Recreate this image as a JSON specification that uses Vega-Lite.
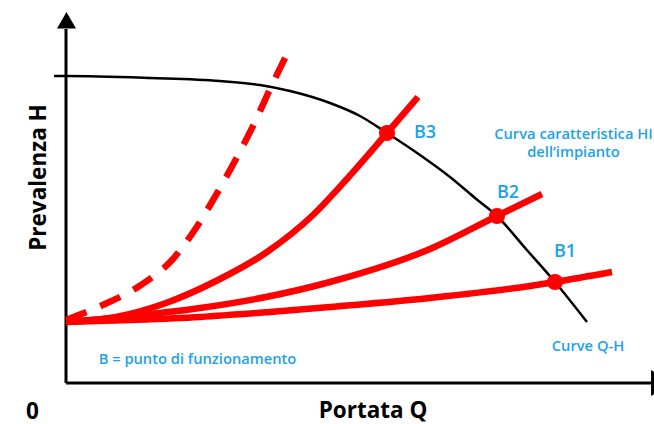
{
  "$schema": "https://vega.github.io/schema/vega-lite/v6.json",
  "width": 654,
  "height": 424,
  "autosize": {"type": "none"},
  "padding": 0,
  "background": "white",
  "config": {"view": {"stroke": null}},
  "datasets": {
    "axes": [
      {"Q": 0, "H": 0, "Q2": 0, "H2": 354},
      {"Q": 0, "H": 0, "Q2": 585, "H2": 0}
    ],
    "arrowUp": [{"Q": 0.5, "H": 362.8}],
    "arrowRight": [{"Q": 596.3, "H": 0}],
    "pump": [
      {"Q": -12, "H": 307}, {"Q": 0, "H": 307}, {"Q": 84, "H": 305}, {"Q": 154, "H": 302},
      {"Q": 194, "H": 298}, {"Q": 224, "H": 292}, {"Q": 264, "H": 280}, {"Q": 294, "H": 267},
      {"Q": 321, "H": 250}, {"Q": 354, "H": 228}, {"Q": 384, "H": 206}, {"Q": 409, "H": 185},
      {"Q": 431, "H": 167}, {"Q": 460, "H": 134}, {"Q": 489, "H": 101}, {"Q": 521, "H": 61}
    ],
    "system": [
      {"curve": "B1", "Q": 0, "H": 61}, {"curve": "B1", "Q": 64, "H": 63}, {"curve": "B1", "Q": 134, "H": 66},
      {"curve": "B1", "Q": 204, "H": 71}, {"curve": "B1", "Q": 264, "H": 76}, {"curve": "B1", "Q": 364, "H": 85},
      {"curve": "B1", "Q": 464, "H": 97}, {"curve": "B1", "Q": 489, "H": 101}, {"curve": "B1", "Q": 546, "H": 111},
      {"curve": "B2", "Q": 0, "H": 61}, {"curve": "B2", "Q": 67, "H": 67}, {"curve": "B2", "Q": 134, "H": 75},
      {"curve": "B2", "Q": 200, "H": 86}, {"curve": "B2", "Q": 264, "H": 101}, {"curve": "B2", "Q": 364, "H": 134},
      {"curve": "B2", "Q": 431, "H": 167}, {"curve": "B2", "Q": 476, "H": 189},
      {"curve": "B3", "Q": 0, "H": 61}, {"curve": "B3", "Q": 50, "H": 66}, {"curve": "B3", "Q": 100, "H": 80},
      {"curve": "B3", "Q": 150, "H": 102}, {"curve": "B3", "Q": 201, "H": 131}, {"curve": "B3", "Q": 247, "H": 168},
      {"curve": "B3", "Q": 280, "H": 203}, {"curve": "B3", "Q": 321, "H": 250}, {"curve": "B3", "Q": 352, "H": 286}
    ],
    "dashed": [
      {"Q": 0, "H": 63}, {"Q": 39, "H": 79}, {"Q": 75, "H": 98}, {"Q": 106, "H": 123},
      {"Q": 130, "H": 155}, {"Q": 150, "H": 188}, {"Q": 170, "H": 224}, {"Q": 188, "H": 259},
      {"Q": 205, "H": 296}, {"Q": 222, "H": 331}
    ],
    "points": [
      {"label": "B1", "Q": 489, "H": 101},
      {"label": "B2", "Q": 431, "H": 167},
      {"label": "B3", "Q": 321, "H": 250}
    ],
    "pointLabels": [
      {"label": "B1", "Q": 488, "H": 126},
      {"label": "B2", "Q": 431, "H": 185},
      {"label": "B3", "Q": 348, "H": 245}
    ],
    "notes": [
      {"text": "Curva caratteristica HI", "Q": 507.5, "H": 244},
      {"text": "dell’impianto", "Q": 507.5, "H": 226},
      {"text": "Curve Q-H", "Q": 522, "H": 32},
      {"text": "B = punto di funzionamento", "Q": 131.5, "H": 19}
    ],
    "titles": [
      {"text": "Portata Q", "Q": 307, "H": -35},
      {"text": "0", "Q": -33.5, "H": -36}
    ],
    "ytitle": [{"text": "Prevalenza H", "Q": -20, "H": 205.5}]
  },
  "encoding": {
    "x": {"field": "Q", "type": "quantitative", "scale": {"domain": [-66, 588], "nice": false, "zero": false}, "axis": null},
    "y": {"field": "H", "type": "quantitative", "scale": {"domain": [-41, 383], "nice": false, "zero": false}, "axis": null}
  },
  "layer": [
    {
      "data": {"name": "axes"},
      "mark": {"type": "rule", "color": "black", "strokeWidth": 3},
      "encoding": {"x2": {"field": "Q2"}, "y2": {"field": "H2"}}
    },
    {
      "data": {"name": "arrowUp"},
      "mark": {"type": "point", "shape": "triangle-up", "size": 361, "filled": true, "color": "black", "opacity": 1}
    },
    {
      "data": {"name": "arrowRight"},
      "mark": {"type": "point", "shape": "triangle-right", "size": 676, "filled": true, "color": "black", "opacity": 1}
    },
    {
      "data": {"name": "pump"},
      "mark": {"type": "line", "color": "black", "strokeWidth": 2.5, "interpolate": "monotone"}
    },
    {
      "data": {"name": "dashed"},
      "mark": {"type": "line", "color": "#ff0000", "strokeWidth": 6.5, "strokeDash": [22, 15], "interpolate": "monotone"}
    },
    {
      "data": {"name": "system"},
      "mark": {"type": "line", "color": "#ff0000", "strokeWidth": 6.5, "interpolate": "monotone"},
      "encoding": {"detail": {"field": "curve", "type": "nominal"}}
    },
    {
      "data": {"name": "points"},
      "mark": {"type": "point", "shape": "circle", "size": 260, "filled": true, "color": "#ff0000", "opacity": 1}
    },
    {
      "data": {"name": "pointLabels"},
      "mark": {"type": "text", "align": "left", "baseline": "alphabetic", "font": "Open Sans", "fontWeight": 600, "fontSize": 18, "color": "#1ba1ee"},
      "encoding": {"text": {"field": "label"}}
    },
    {
      "data": {"name": "notes"},
      "mark": {"type": "text", "align": "center", "baseline": "alphabetic", "font": "Open Sans", "fontWeight": 600, "fontSize": 14.7, "color": "#1ba1ee"},
      "encoding": {"text": {"field": "text"}}
    },
    {
      "data": {"name": "titles"},
      "mark": {"type": "text", "align": "center", "baseline": "alphabetic", "font": "Open Sans", "fontWeight": 700, "fontSize": 22.5, "color": "black"},
      "encoding": {"text": {"field": "text"}}
    },
    {
      "data": {"name": "ytitle"},
      "mark": {"type": "text", "align": "center", "baseline": "alphabetic", "angle": 270, "font": "Open Sans", "fontWeight": 700, "fontSize": 22.5, "color": "black"},
      "encoding": {"text": {"field": "text"}}
    }
  ]
}
